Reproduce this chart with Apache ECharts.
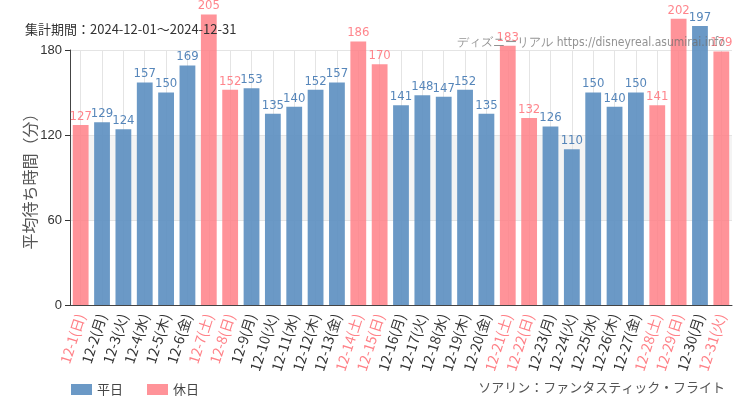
<!DOCTYPE html>
<html><head><meta charset="utf-8">
<script src="https://cdn.jsdelivr.net/npm/echarts@6/dist/echarts.min.js"></script>
<style>html,body{margin:0;padding:0;background:#fff}#c{width:750px;height:410px}</style>
</head><body><div id="c"></div>
<script>
const categories = ['12-1(日)','12-2(月)','12-3(火)','12-4(水)','12-5(木)','12-6(金)','12-7(土)','12-8(日)','12-9(月)','12-10(火)','12-11(水)','12-12(木)','12-13(金)','12-14(土)','12-15(日)','12-16(月)','12-17(火)','12-18(水)','12-19(木)','12-20(金)','12-21(土)','12-22(日)','12-23(月)','12-24(火)','12-25(水)','12-26(木)','12-27(金)','12-28(土)','12-29(日)','12-30(月)','12-31(火)'];
const waitValues = [127,129,124,157,150,169,205,152,153,135,140,152,157,186,170,141,148,147,152,135,183,132,126,110,150,140,150,141,202,197,179];
const isHoliday = [1,0,0,0,0,0,1,1,0,0,0,0,0,1,1,0,0,0,0,0,1,1,0,0,0,0,0,1,1,0,1];
const yTicks = [0,60,120,180];

const BLUE = '#5b8ec0', PINK = '#ff8087';
const weekday = waitValues.map((v,i)=> isHoliday[i] ? '-' : v);
const holiday = waitValues.map((v,i)=> isHoliday[i] ? v : '-');
const FONT = "'DejaVu Sans Condensed','Liberation Sans Narrow',sans-serif";
const JP = "'Noto Sans CJK JP',sans-serif";

const chart = echarts.init(document.getElementById('c'));
chart.setOption({
  animation:false,
  backgroundColor:'#fff',
  grid:{left:70,right:18,top:50,bottom:105},
  title:[
    {text:'集計期間：2024-12-01～2024-12-31',left:20,top:18,textStyle:{fontSize:13,fontWeight:'normal',color:'#333',fontFamily:JP}},
    {text:'ディズニーリアル https://disneyreal.asumirai.info',right:20,top:32,textStyle:{fontSize:12,fontWeight:'normal',color:'rgba(110,110,110,0.75)',fontFamily:FONT}},
    {text:'ソアリン：ファンタスティック・フライト',right:20,top:376,textStyle:{fontSize:13,fontWeight:'normal',color:'#555',fontFamily:JP}}
  ],
  legend:{left:66,top:378,itemWidth:21,itemHeight:11,itemGap:24,icon:'rect',
    textStyle:{fontSize:13,color:'#444',fontFamily:JP},
    data:['平日','休日']},
  xAxis:{type:'category',data:categories,
    axisLine:{lineStyle:{color:'#444'}},
    axisTick:{alignWithLabel:true,lineStyle:{color:'#333'}},
    splitLine:{show:true,alignWithLabel:true,lineStyle:{color:'#e4e4e4'}},
    axisLabel:{interval:0,rotate:72,fontSize:14,fontFamily:JP,margin:9,
      formatter:(v,i)=> isHoliday[i] ? '{h|'+v+'}' : '{w|'+v+'}',
      rich:{h:{color:PINK,fontSize:14,fontFamily:JP},w:{color:'#333',fontSize:14,fontFamily:JP}}}
  },
  yAxis:{type:'value',min:0,max:180,interval:60,
    name:'平均待ち時間（分）',nameLocation:'middle',nameGap:32,nameMoveOverlap:false,
    nameTextStyle:{fontSize:16,color:'#555',fontFamily:JP},
    axisLine:{show:true,lineStyle:{color:'#444'}},
    axisTick:{show:true,lineStyle:{color:'#333'}},
    axisLabel:{fontSize:13,color:'#333',formatter:v=> yTicks.includes(v)? String(v):''},
    splitLine:{lineStyle:{color:'#e4e4e4'}},
    splitArea:{show:true,areaStyle:{color:['rgba(255,255,255,0)','#f4f4f4']}}
  },
  series:[
    {name:'平日',type:'bar',stack:'a',data:weekday,clip:false,barCategoryGap:'26%',
      itemStyle:{color:BLUE,opacity:0.9},
      label:{show:true,position:'top',distance:2,color:'#4479b3',fontSize:13,fontFamily:FONT}},
    {name:'休日',type:'bar',stack:'a',data:holiday,clip:false,barCategoryGap:'26%',
      itemStyle:{color:PINK,opacity:0.85},
      label:{show:true,position:'top',distance:2,color:'#ff7078',fontSize:13,fontFamily:FONT}}
  ]
});
</script></body></html>
